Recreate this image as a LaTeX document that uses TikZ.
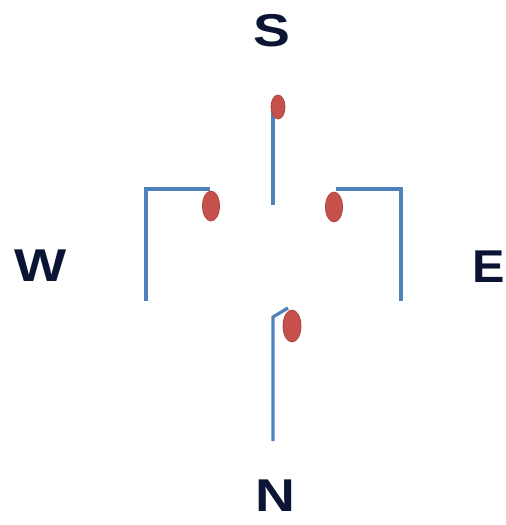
\documentclass[tikz,border=0pt]{standalone}
\usepackage{fontspec}
\setmainfont{Liberation Sans}
\usetikzlibrary{shapes.geometric}
\definecolor{wire}{HTML}{4F81BD}
\definecolor{dotred}{HTML}{C6504B}
\definecolor{dotedge}{HTML}{B0443F}
\definecolor{ink}{HTML}{0B1533}
\tikzset{
  wireline/.style={draw=wire, line width=3.2pt},
  contact/.style={ellipse, fill=dotred, draw=dotedge, line width=0.8pt, inner sep=0pt},
  dirlabel/.style={font=\bfseries\fontsize{46}{50}\selectfont, text=ink, inner sep=0pt, xscale=1.2}
}
\begin{document}
\begin{tikzpicture}[x=1pt,y=-1pt]
\useasboundingbox (0,0) rectangle (506,525);
% labels
\node[dirlabel] (S) at (272,31) {S};
\node[dirlabel] (W) at (41,266) {W};
\node[dirlabel, xscale=0.88] (E) at (489,267) {E};
\node[dirlabel] (N) at (275,496) {N};
% wire coordinates
\coordinate (topfoot) at (273,205);
\coordinate (topend) at (273,112);
\coordinate (lfoot) at (146,301);
\coordinate (lcorner) at (146,189);
\coordinate (lend) at (210,189);
\coordinate (rfoot) at (401,301);
\coordinate (rcorner) at (401,189);
\coordinate (rend) at (336,189);
\coordinate (bfoot) at (273,441);
\coordinate (bbend) at (273,317);
\coordinate (bend) at (288,308);
% wires
\draw[wireline] (topfoot) -- (topend);
\draw[wireline] (lfoot) -- (lcorner) -- (lend);
\draw[wireline] (rfoot) -- (rcorner) -- (rend);
\draw[wireline] (bfoot) -- (bbend) -- (bend);
% contacts
\node[contact, minimum width=14pt, minimum height=24pt] (dS) at (278,107) {};
\node[contact, minimum width=17pt, minimum height=30pt] (dW) at (211,206) {};
\node[contact, minimum width=17pt, minimum height=30pt] (dE) at (334,207) {};
\node[contact, minimum width=18pt, minimum height=32pt] (dN) at (292,326) {};
\end{tikzpicture}
\end{document}
